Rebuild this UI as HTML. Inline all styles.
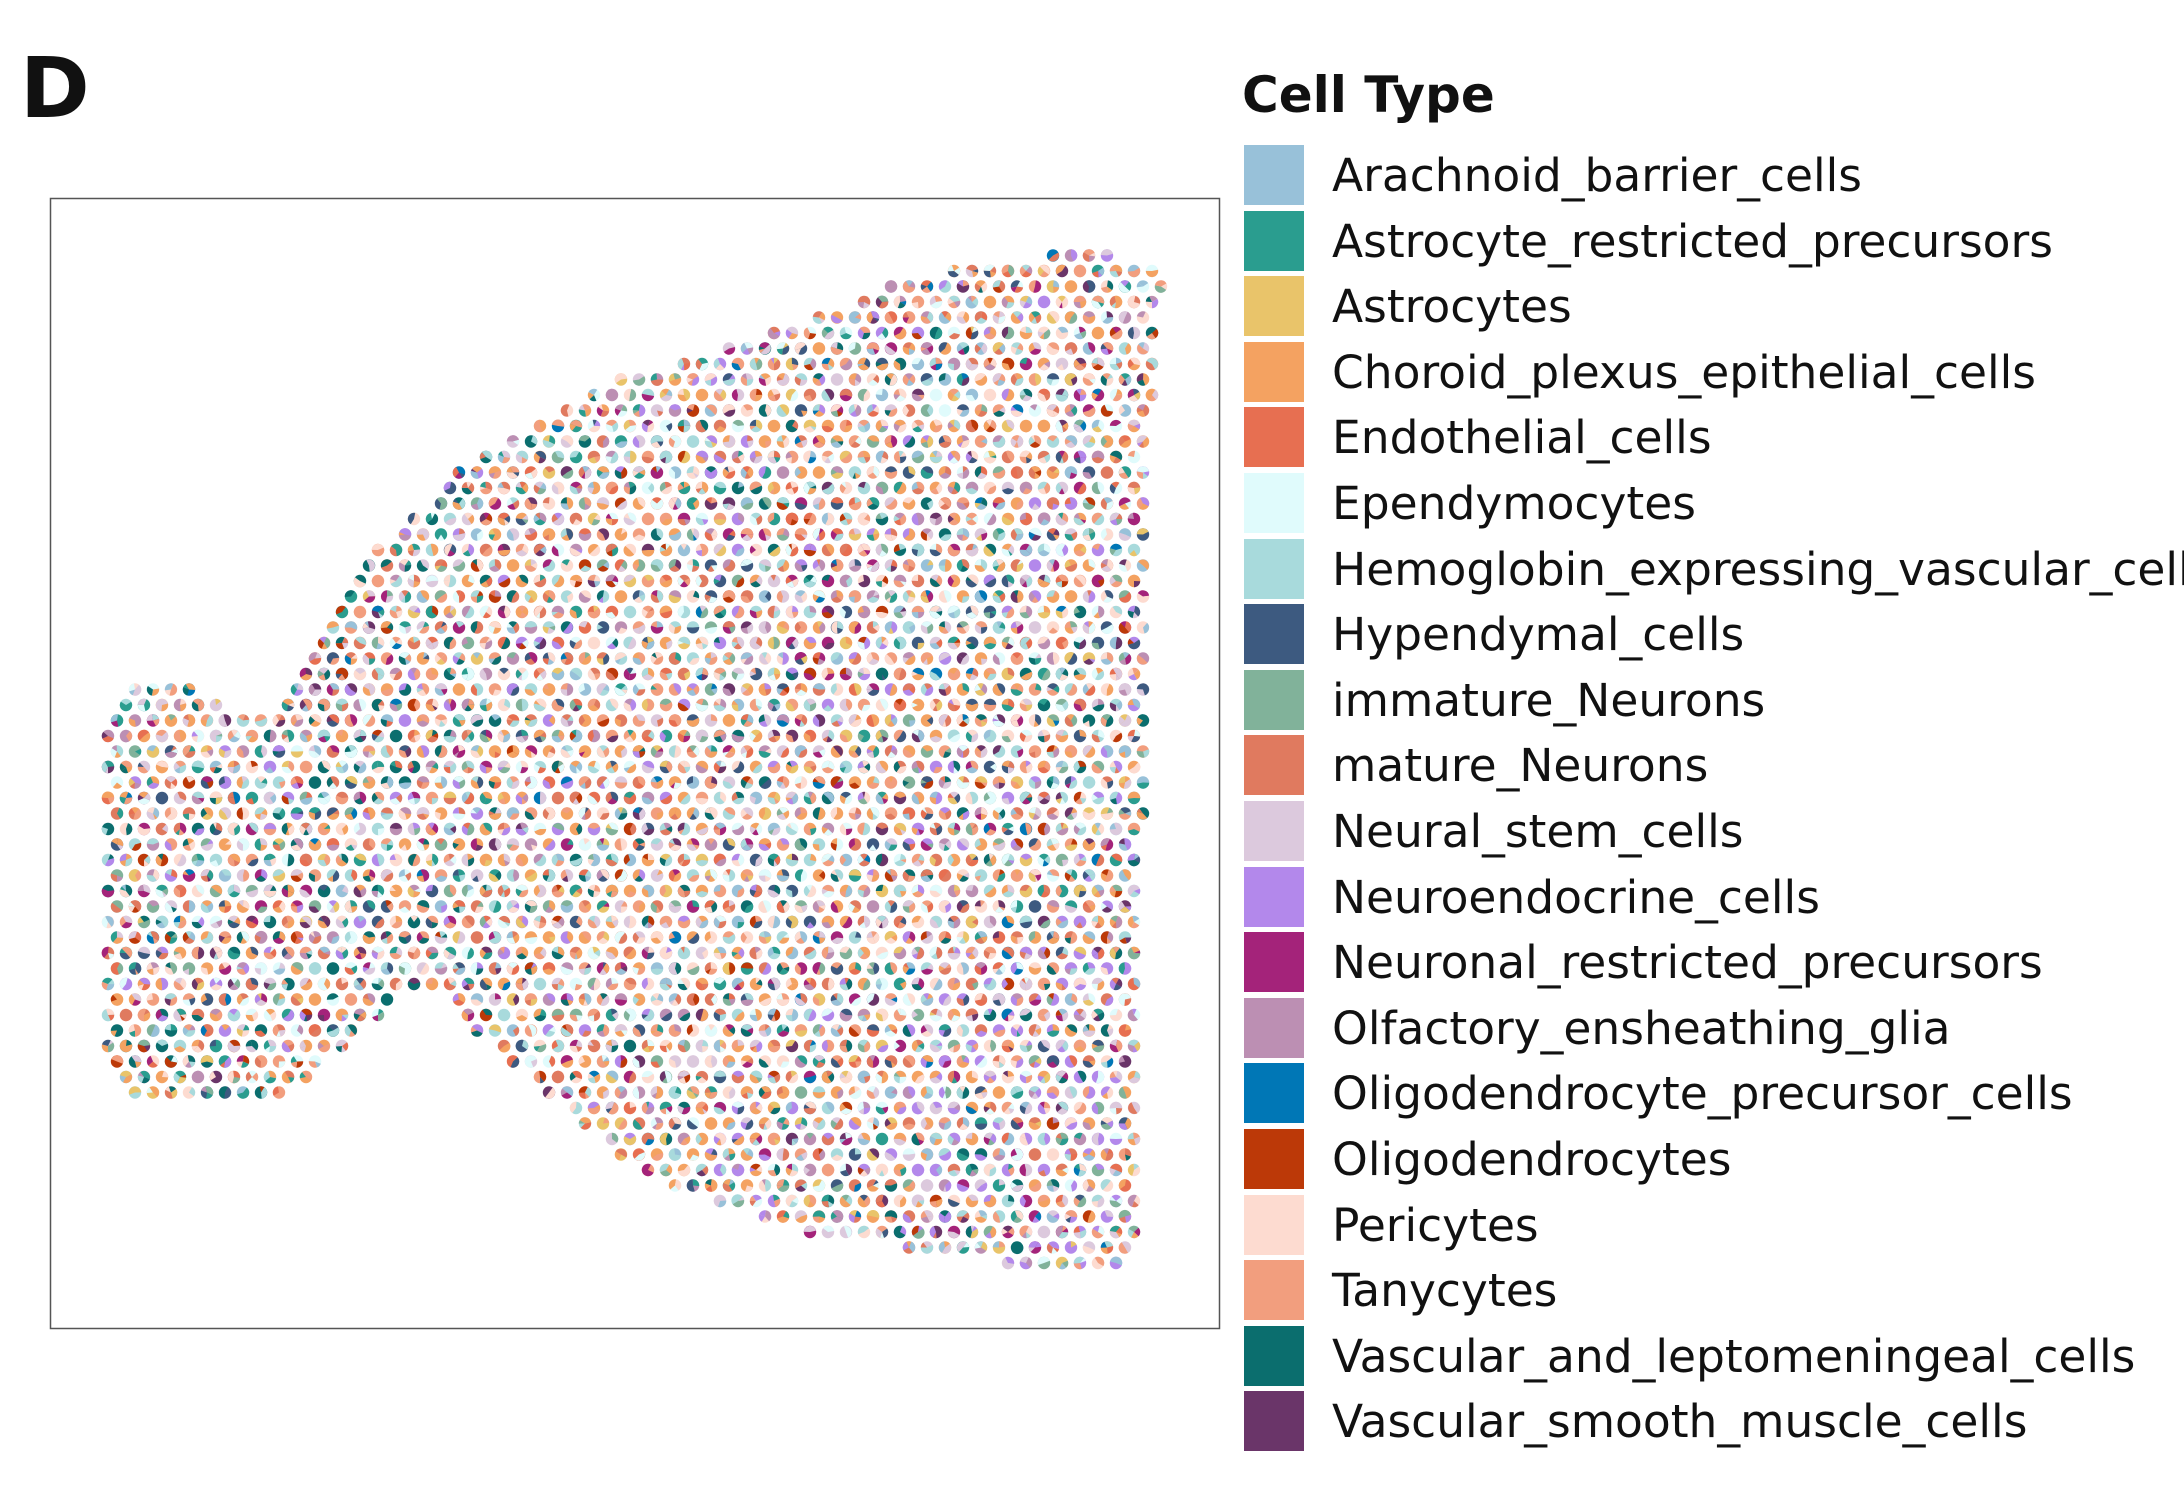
<!DOCTYPE html>
<html><head><meta charset="utf-8">
<style>
html,body{margin:0;padding:0;background:#fff;width:2184px;height:1497px;overflow:hidden;position:relative;font-family:"DejaVu Sans","Liberation Sans",sans-serif;}
#D{position:absolute;left:20px;top:46px;font-size:84px;font-weight:bold;color:#111;line-height:1;}
#title{position:absolute;left:1242px;top:70px;font-size:50px;font-weight:bold;color:#111;line-height:1;}
.sw{position:absolute;left:1244px;width:60px;height:60px;}
.lb{position:absolute;left:1332px;font-size:45.5px;color:#111;line-height:60px;white-space:nowrap;}
#plot{position:absolute;left:0;top:0;}
</style></head><body>
<div id="D">D</div>
<svg id="plot" width="2184" height="1497" xmlns="http://www.w3.org/2000/svg">
<rect x="50.5" y="198.5" width="1169" height="1130" fill="none" stroke="#555" stroke-width="1.5"/>
<g id="dots"></g>
</svg>
<div id="title">Cell Type</div>
<div id="legend"></div>
<script>
var cols=["#98c1d9","#2a9d8f","#e9c46a","#f4a261","#e76f51","#e0fbfc","#a8dadc","#3d5a80","#81b29a","#e07a5f","#dcc9dd","#b388eb","#a4237a","#bc8fb3","#0077b6","#bc3908","#fddbd0","#f29e7e","#0b6e6e","#6a3569"];
var names=["Arachnoid_barrier_cells","Astrocyte_restricted_precursors","Astrocytes","Choroid_plexus_epithelial_cells","Endothelial_cells","Ependymocytes","Hemoglobin_expressing_vascular_cells","Hypendymal_cells","immature_Neurons","mature_Neurons","Neural_stem_cells","Neuroendocrine_cells","Neuronal_restricted_precursors","Olfactory_ensheathing_glia","Oligodendrocyte_precursor_cells","Oligodendrocytes","Pericytes","Tanycytes","Vascular_and_leptomeningeal_cells","Vascular_smooth_muscle_cells"];
var lg=document.getElementById('legend'),h='';
for(var i=0;i<20;i++){var y=145+i*65.6;h+='<div class="sw" style="top:'+y+'px;background:'+cols[i]+'"></div><div class="lb" style="top:'+(y+1)+'px">'+names[i]+'</div>';}
lg.innerHTML=h;
var s=1.393;
var poly=[[75,515],[90,495],[140,488],[165,512],[195,515],[210,490],[260,400],[340,330],[420,280],[520,250],[640,205],[700,190],[790,178],[835,192],[826,300],[825,500],[818,650],[818,890],[800,915],[700,905],[560,882],[500,860],[440,830],[400,790],[340,740],[305,705],[260,740],[200,790],[100,792],[75,765]].map(function(p){return [p[0]*s,p[1]*s];});
function inside(x,y){var c=false;for(var i=0,j=poly.length-1;i<poly.length;j=i++){var a=poly[i],b=poly[j];if(((a[1]>y)!=(b[1]>y))&&(x<(b[0]-a[0])*(y-a[1])/(b[1]-a[1])+a[0]))c=!c;}return c;}
var seed=7;function rnd(){seed=(seed*16807)%2147483647;return seed/2147483647;}
function pick(x,y){var r=rnd();
 var w=[4,3,3,10,3,5,7,3,3,6,6,4,3,4,1,2,7,9,3,2];
 if(x>900&&y>950){w[11]+=14;w[10]+=5;}
 if(x<500){w[18]+=4;w[1]+=3;}
 var t=0;for(var i=0;i<20;i++)t+=w[i];r*=t;for(i=0;i<20;i++){r-=w[i];if(r<=0)return cols[i];}return cols[0];}
var out='',R=6.2;
for(var row=0;row*15.5<1200;row++){var y=240+row*15.5;var off=(row%2)*9;
 for(var x=90+off;x<1180;x+=18){ if(!inside(x,y))continue;
  var n=2+Math.floor(rnd()*3),a0=rnd()*6.283,fr=[],tt=0;for(var k=0;k<n;k++){var v=rnd()+0.2;fr.push(v);tt+=v;}
  var a=a0;
  out+='<circle cx="'+x+'" cy="'+y+'" r="'+R+'" fill="'+pick(x,y)+'"/>';
  for(k=1;k<n;k++){var da=fr[k]/tt*6.283;var x1=x+R*Math.cos(a),y1=y+R*Math.sin(a),x2=x+R*Math.cos(a+da),y2=y+R*Math.sin(a+da);
   out+='<path d="M'+x+' '+y+'L'+x1.toFixed(1)+' '+y1.toFixed(1)+'A'+R+' '+R+' 0 '+(da>3.1416?1:0)+' 1 '+x2.toFixed(1)+' '+y2.toFixed(1)+'Z" fill="'+pick(x,y)+'"/>';a+=da;}
 }}
document.getElementById('dots').innerHTML=out;
</script>
</body></html>
